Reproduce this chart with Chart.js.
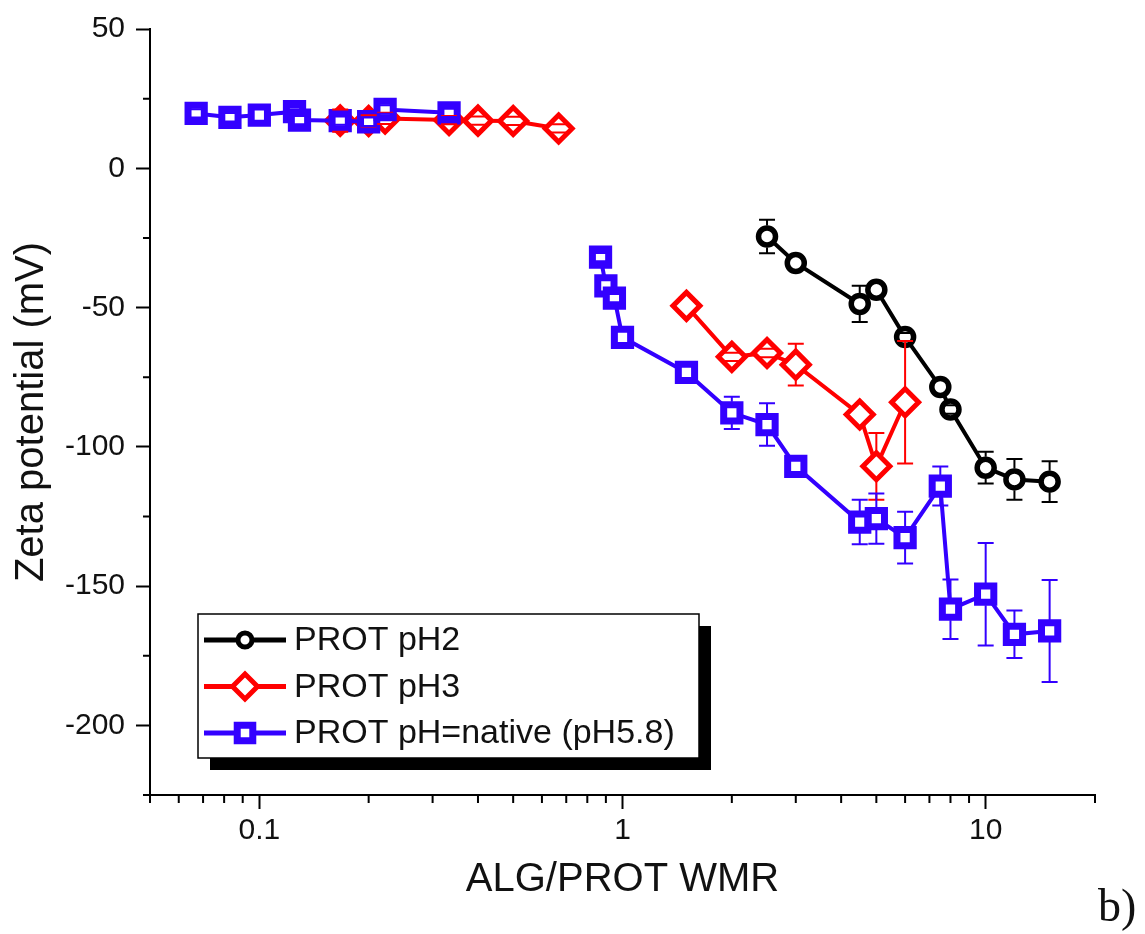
<!DOCTYPE html>
<html>
<head>
<meta charset="utf-8">
<script src="https://cdn.jsdelivr.net/npm/chart.js@4.4.0/dist/chart.umd.min.js"></script>
<style>
  html, body { margin: 0; padding: 0; background: #fff; }
  #wrap { width: 1145px; height: 934px; }
</style>
</head>
<body>
<div id="wrap"><canvas id="zetaChart" width="1145" height="934"></canvas></div>
<script>
// --- data ---
const pH2X = [2.5, 3, 4.5, 5, 6, 7.5, 8, 10, 12, 15];
const pH2Y = [-24.5, -34, -48.7, -43.6, -60.6, -78.5, -86.6, -107.5, -111.7, -112.5];
const pH2Err = [6, 0, 6.5, 0, 1.5, 0, 1.5, 5.7, 7.3, 7.3];

const pH3LowX = [0.167, 0.2, 0.222, 0.333, 0.4, 0.5, 0.667];
const pH3LowY = [17.1, 17, 17.9, 17.3, 17.1, 17, 14.3];
const pH3LowErr = [4, 2, 2, 1.5, 1.5, 1.5, 1.5];
const pH3HighX = [1.5, 2, 2.5, 3, 4.5, 5, 6];
const pH3HighY = [-49.4, -67.7, -66.3, -70.5, -88.4, -107, -84];
const pH3HighErr = [0, 1.5, 1.5, 7.5, 0, 12, 22];

const nativeLowX = [0.067, 0.083, 0.1, 0.125, 0.129, 0.167, 0.2, 0.222, 0.333];
const nativeLowY = [19.7, 18.3, 19.1, 20.3, 17.3, 17.1, 16.7, 21.1, 19.9];
const nativeLowErr = [1.5, 1.5, 0, 1.5, 1.5, 1.5, 1.5, 1.5, 1.5];
const nativeHighX = [0.87, 0.9, 0.95, 1, 1.5, 2, 2.5, 3, 4.5, 5, 6, 7.5, 8, 10, 12, 15];
const nativeHighY = [-31.9, -42.2, -46.6, -60.7, -73.3, -87.8, -92, -107, -127, -125.8, -132.6, -114.1, -158.3, -152.9, -167.3, -166.1];
const nativeHighErr = [1.5, 0, 1.5, 0, 0, 5.8, 7.6, 0, 8, 9, 9.3, 7, 10.7, 18.4, 8.5, 18.3];

const seriesNames = ['PROT pH2', 'PROT pH3', 'PROT pH=native (pH5.8)'];

const xMajorTicks = [0.1, 1, 10];
const xMajorLabels = ['0.1', '1', '10'];
const xMinorTicks = [0.05, 0.06, 0.07, 0.08, 0.09, 0.2, 0.3, 0.4, 0.5, 0.6, 0.7, 0.8, 0.9, 2, 3, 4, 5, 6, 7, 8, 9, 20];
const yMajorTicks = [-200, -150, -100, -50, 0, 50];
const yMinorTicks = [-225, -175, -125, -75, -25, 25];

// --- styles ---
const FONT = "'Liberation Sans', Arial, sans-serif";
const BLACK = '#000000';
const RED = '#ff0000';
const BLUE = '#3300ff';
const TEXT = '#111111';

function pts(xs, ys) {
    return xs.map((x, i) => ({ x: x, y: ys[i] }));
}

const styles = [
    { color: BLACK, pointStyle: 'circle', radius: 8.5, border: 5.5, gap: 11, order: 2 },
    { color: RED, pointStyle: 'rectRot', radius: 13.5, border: 5, gap: 15, order: 1 },
    { color: BLUE, pointStyle: 'rect', radius: 11.5, border: 7, gap: 11, order: 0 }
];

function makeDataset(label, xs, ys, errs, s) {
    return {
        label: label,
        data: pts(xs, ys),
        errors: errs,
        errGap: s.gap,
        showLine: true,
        borderColor: s.color,
        borderWidth: 4,
        pointStyle: s.pointStyle,
        pointRadius: s.radius,
        pointBorderWidth: s.border,
        pointBorderColor: s.color,
        pointBackgroundColor: '#ffffff',
        order: s.order
    };
}

// error bars, drawn with the chart's own scales; the stem skips the marker
const errorBarPlugin = {
    id: 'errorBars',
    afterDatasetsDraw(chart) {
        const ctx = chart.ctx;
        const xs = chart.scales.x;
        const ys = chart.scales.y;
        ctx.save();
        ctx.lineWidth = 2;
        chart.data.datasets.forEach(ds => {
            if (!ds.errors) return;
            ctx.strokeStyle = ds.borderColor;
            ds.data.forEach((p, i) => {
                const e = ds.errors[i];
                if (!e) return;
                const px = xs.getPixelForValue(p.x);
                const py = ys.getPixelForValue(p.y);
                const top = ys.getPixelForValue(p.y + e);
                const bot = ys.getPixelForValue(p.y - e);
                ctx.beginPath();
                if (py - top > ds.errGap) {
                    ctx.moveTo(px, top); ctx.lineTo(px, py - ds.errGap);
                    ctx.moveTo(px, py + ds.errGap); ctx.lineTo(px, bot);
                }
                ctx.moveTo(px - 8, top); ctx.lineTo(px + 8, top);
                ctx.moveTo(px - 8, bot); ctx.lineTo(px + 8, bot);
                ctx.stroke();
            });
        });
        ctx.restore();
    }
};

// short minor tick marks (major ones come from Chart.js grid)
const minorTickPlugin = {
    id: 'minorTicks',
    afterDraw(chart) {
        const ctx = chart.ctx;
        const area = chart.chartArea;
        ctx.save();
        ctx.strokeStyle = BLACK;
        ctx.lineWidth = 2;
        ctx.beginPath();
        xMinorTicks.forEach(v => {
            const px = chart.scales.x.getPixelForValue(v);
            ctx.moveTo(px, area.bottom);
            ctx.lineTo(px, area.bottom + 8);
        });
        yMinorTicks.forEach(v => {
            const py = chart.scales.y.getPixelForValue(v);
            ctx.moveTo(area.left - 7, py);
            ctx.lineTo(area.left, py);
        });
        ctx.stroke();
        ctx.restore();
    }
};

function drawMarker(ctx, s, x, y, r, bw) {
    ctx.fillStyle = '#ffffff';
    ctx.strokeStyle = s.color;
    ctx.lineWidth = bw;
    if (Chart.helpers && Chart.helpers.drawPoint) {
        Chart.helpers.drawPoint(ctx, { pointStyle: s.pointStyle, radius: r, rotation: 0, borderWidth: bw }, x, y);
    }
}

// boxed legend with drop shadow, plus the panel letter
const legendBoxPlugin = {
    id: 'legendBox',
    afterDraw(chart) {
        const ctx = chart.ctx;
        const box = { x: 198, y: 614, w: 501, h: 144, shadow: 12 };
        ctx.save();
        ctx.fillStyle = BLACK;
        ctx.fillRect(box.x + box.shadow, box.y + box.shadow, box.w, box.h);
        ctx.fillStyle = '#ffffff';
        ctx.fillRect(box.x, box.y, box.w, box.h);
        ctx.strokeStyle = BLACK;
        ctx.lineWidth = 1.5;
        ctx.strokeRect(box.x, box.y, box.w, box.h);

        const legendRadius = [7, 12.5, 11];
        const legendBorder = [5, 5, 7];
        seriesNames.forEach((name, i) => {
            const s = styles[i];
            const y = 640 + i * 46.5;
            ctx.strokeStyle = s.color;
            ctx.lineWidth = 5;
            ctx.beginPath();
            ctx.moveTo(204, y);
            ctx.lineTo(286, y);
            ctx.stroke();
            drawMarker(ctx, s, 245, y, legendRadius[i], legendBorder[i]);
            ctx.fillStyle = TEXT;
            ctx.font = '34px ' + FONT;
            ctx.textAlign = 'left';
            ctx.textBaseline = 'middle';
            ctx.fillText(name, 294, y + 1);
        });

        ctx.fillStyle = TEXT;
        ctx.font = '46px "Liberation Serif", "Times New Roman", serif';
        ctx.textAlign = 'left';
        ctx.textBaseline = 'alphabetic';
        ctx.fillText('b)', 1098, 921);
        ctx.restore();
    }
};

const ctx = document.getElementById('zetaChart').getContext('2d');

new Chart(ctx, {
    type: 'scatter',
    data: {
        datasets: [
            makeDataset(seriesNames[0], pH2X, pH2Y, pH2Err, styles[0]),
            makeDataset(seriesNames[1], pH3LowX, pH3LowY, pH3LowErr, styles[1]),
            makeDataset(seriesNames[1], pH3HighX, pH3HighY, pH3HighErr, styles[1]),
            makeDataset(seriesNames[2], nativeLowX, nativeLowY, nativeLowErr, styles[2]),
            makeDataset(seriesNames[2], nativeHighX, nativeHighY, nativeHighErr, styles[2])
        ]
    },
    options: {
        responsive: false,
        animation: false,
        layout: { padding: { left: 0, top: 29, right: 50, bottom: 0 } },
        elements: { line: { tension: 0 } },
        plugins: {
            legend: { display: false },
            tooltip: { enabled: false }
        },
        scales: {
            x: {
                type: 'logarithmic',
                position: 'bottom',
                min: 0.05,
                max: 20,
                afterBuildTicks: scale => {
                    scale.ticks = xMajorTicks.map(v => ({ value: v, major: true }));
                },
                afterFit: scale => { scale.height = 139; },
                grid: {
                    drawOnChartArea: false,
                    tickLength: 14,
                    tickWidth: 2,
                    tickColor: BLACK
                },
                border: { display: true, color: BLACK, width: 2 },
                ticks: {
                    autoSkip: false,
                    maxRotation: 0,
                    padding: 4,
                    color: TEXT,
                    font: { family: FONT, size: 30 },
                    callback: (value) => {
                        const i = xMajorTicks.indexOf(value);
                        return i >= 0 ? xMajorLabels[i] : '';
                    }
                },
                title: {
                    display: true,
                    text: 'ALG/PROT WMR',
                    color: TEXT,
                    font: { family: FONT, size: 40 },
                    padding: { top: 0, bottom: 30 }
                }
            },
            y: {
                type: 'linear',
                min: -225,
                max: 50,
                afterBuildTicks: scale => {
                    scale.ticks = yMajorTicks.map(v => ({ value: v, major: true }));
                },
                afterFit: scale => { scale.width = 150; },
                grid: {
                    drawOnChartArea: false,
                    tickLength: 14,
                    tickWidth: 2,
                    tickColor: BLACK
                },
                border: { display: true, color: BLACK, width: 2 },
                ticks: {
                    padding: 11,
                    color: TEXT,
                    font: { family: FONT, size: 30 },
                    callback: (value) => String(value)
                },
                title: {
                    display: true,
                    text: 'Zeta potential (mV)',
                    color: TEXT,
                    font: { family: FONT, size: 40 },
                    padding: { top: 8, bottom: 0 }
                }
            }
        }
    },
    plugins: [errorBarPlugin, minorTickPlugin, legendBoxPlugin]
});
</script>
</body>
</html>
